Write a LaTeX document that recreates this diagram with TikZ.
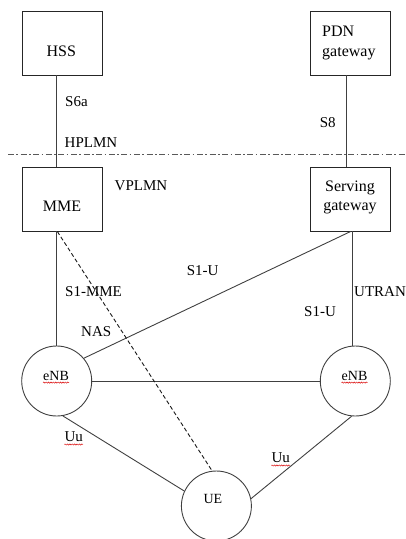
\documentclass[tikz,border=0pt]{standalone}
\usepackage{fontspec}
\setmainfont{Liberation Serif}
\usetikzlibrary{decorations.pathmorphing}
\begin{document}
\begin{tikzpicture}[x=1pt,y=-1pt,
  netbox/.style={draw=black!85, line width=0.9pt, minimum width=80pt, minimum height=64pt, inner sep=0pt},
  cell/.style={draw=black!75, line width=0.9pt, circle, minimum size=70pt, inner sep=0pt},
  link/.style={draw=black!75, line width=0.9pt},
  nasline/.style={draw=black!90, line width=0.9pt, dash pattern=on 4pt off 2.5pt},
  border/.style={draw=black!65, line width=1pt, dash pattern=on 6pt off 2.3pt on 1.7pt off 2.6pt},
  boxtxt/.style={font=\fontsize{16}{19.5}\selectfont, inner sep=0pt},
  celltxt/.style={font=\fontsize{14}{17}\selectfont, inner sep=0pt, anchor=base west},
  lbl/.style={font=\fontsize{15}{18}\selectfont, inner sep=0pt, anchor=base west},
  squiggle/.style={draw=red!85!black, line width=0.45pt, decorate,
    decoration={snake, amplitude=0.6pt, segment length=2.4pt}}
]
\useasboundingbox (0,0) rectangle (406,539);

% network elements
\node[netbox] (hss) at (62,43) {};
\node[netbox] (mme) at (62,199) {};
\node[netbox] (pdn) at (350,43) {};
\node[netbox] (sgw) at (350,199) {};

\node[cell] (enb1) at (56.7,381) {};
\node[cell] (enb2) at (355.3,381) {};
\node[cell] (ue) at (216.4,506) {};

% element names
\node[boxtxt, anchor=base] (hsst) at (61.3,56.7) {HSS};
\node[boxtxt, anchor=base] (mmet) at (62,211.7) {MME};
\node[boxtxt, anchor=north west, align=left] (pdnt) at (322,26) {PDN\\gateway};
\node[boxtxt, anchor=north, align=center] (sgwt) at (350,180.5) {Serving\\gateway};

\node[celltxt] (enbt1) at (43,380) {eNB};
\node[celltxt] (enbt2) at (341.5,380) {eNB};
\node[celltxt] (uet) at (203.3,503) {UE};

% HPLMN / VPLMN boundary
\coordinate (hl) at (8,154);
\coordinate (hr) at (406,154);
\draw[border] (hl) -- (hr);

% interfaces
\draw[link] (enb1.north |- hss.south) -- (enb1.north |- mme.north);
\draw[link] (enb1.north |- mme.south) -- (enb1.north);
\draw[link] ([xshift=-3.7pt]pdn.south) -- ([xshift=-3.7pt]sgw.north);
\draw[link] ([xshift=2pt]sgw.south) -- ([xshift=2pt]sgw.south |- enb2.north);
\draw[link] ([xshift=0.7pt]sgw.south) -- (enb1.40);
\draw[link] (enb1) -- (enb2);
\draw[link] (enb1.-80) -- (ue.155);
\draw[link] (enb2.-96) -- (ue.12);
\draw[nasline] ([xshift=-4.7pt]mme.south) -- (ue.97);

% interface labels
\node[lbl] (s6a) at (65,106) {S6a};
\node[lbl] (hplmn) at (64.5,147.3) {HPLMN};
\node[lbl] (vplmn) at (114.5,190) {VPLMN};
\node[lbl] (s8) at (319.7,127.7) {S8};
\node[lbl] (s1mme) at (65,296) {S1-MME};
\node[lbl] (nas) at (81,336.7) {NAS};
\node[lbl] (s1ua) at (186.7,275) {S1-U};
\node[lbl] (utran) at (354,296) {UTRAN};
\node[lbl] (s1ub) at (304,316) {S1-U};
\node[lbl] (uua) at (64.3,441.7) {Uu};
\node[lbl] (uub) at (271.3,462.7) {Uu};

% spelling marks under words
\draw[squiggle] ([yshift=-2.6pt]enbt1.base west) -- ([yshift=-2.6pt]enbt1.base east);
\draw[squiggle] ([yshift=-2.6pt]enbt2.base west) -- ([yshift=-2.6pt]enbt2.base east);
\draw[squiggle] ([yshift=-2.8pt]uua.base west) -- ([yshift=-2.8pt]uua.base east);
\draw[squiggle] ([yshift=-2.8pt]uub.base west) -- ([yshift=-2.8pt]uub.base east);
\end{tikzpicture}
\end{document}
